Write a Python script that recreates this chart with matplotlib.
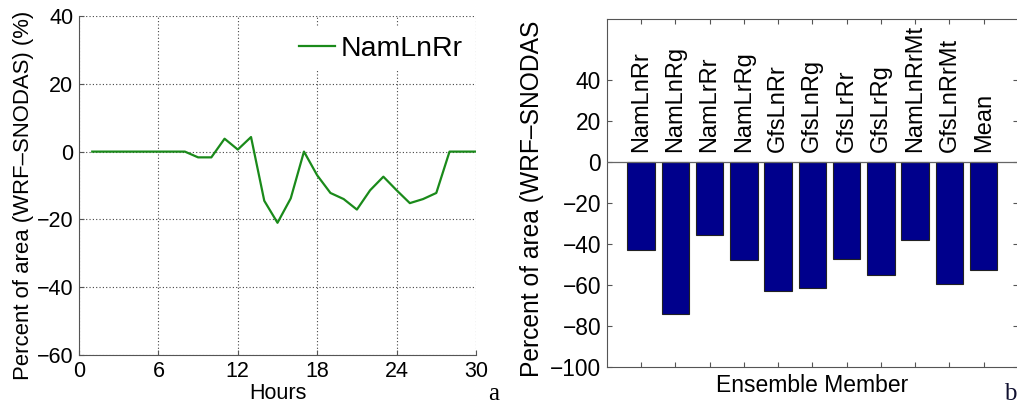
import matplotlib.pyplot as plt
import numpy as np

plt.rcParams["font.family"] = ["Liberation Sans", "DejaVu Sans"]

# left panel: hourly difference for one member
hours = list(range(1, 31))
diff_namlnrr = [0, 0, 0, 0, 0, 0, 0, 0, -1.7, -1.7,
                3.8, 0.6, 4.3, -14.5, -21, -13.8, 0, -7, -12.2, -14,
                -17.1, -11.4, -7.4, -11.4, -15.2, -14, -12.2, 0, 0, 0]

# right panel: total difference per ensemble member
members = ["NamLnRr", "NamLnRg", "NamLrRr", "NamLrRg", "GfsLnRr", "GfsLnRg",
           "GfsLrRr", "GfsLrRg", "NamLnRrMt", "GfsLnRrMt", "Mean"]
member_diff = [-42.7, -74.3, -35.4, -47.9, -62.9, -61.6, -47.1, -55.3, -38.0, -59.7, -52.5]

W, H = 1017, 404
SPINE = "#555555"
GREEN = "#1a8a1a"
NAVY = "#00008c"
ylabel_a = "Percent of area (WRF\u2013SNODAS) (%)"
ylabel_b = "Percent of area (WRF\u2013SNODAS"  # cropped at the top in the original

fig = plt.figure(figsize=(W / 100, H / 100), dpi=100)

# ---- panel a ----
ax1 = fig.add_axes([79 / W, 1 - 355 / H, 397 / W, 339 / H])
ax1.plot(hours, diff_namlnrr, color=GREEN, lw=1.6, label="NamLnRr")
ax1.set_xlim(0, 30)
ax1.set_ylim(-60, 40)
ax1.set_xticks(np.arange(0, 31, 6))
ax1.set_yticks(np.arange(-60, 41, 20))
ax1.grid(True, color="#444444", linestyle=(0, (1, 2)), linewidth=0.8)
for s in ["top", "right"]:
    ax1.spines[s].set_visible(False)
for s in ["left", "bottom"]:
    ax1.spines[s].set_color(SPINE)
ax1.tick_params(direction="in", length=3.5, labelsize=15.5, color=SPINE, pad=4)
ax1.set_xlabel("Hours", fontsize=15.5, labelpad=1)
fig.text(23.5 / W, 1 - 195 / H, ylabel_a, rotation=90, ha="center", va="center",
         fontsize=15.9)
leg = ax1.legend(loc="center right", bbox_to_anchor=(0.987, 0.9027), borderaxespad=0,
                 fontsize=20.5, handlelength=1.26, handletextpad=0.18, borderpad=0.3,
                 frameon=True, fancybox=False, framealpha=1)
leg.get_frame().set_edgecolor("none")
leg.get_frame().set_facecolor("white")

# ---- panel b ----
ax2 = fig.add_axes([606.7 / W, 1 - 366.7 / H, 411.3 / W, 347.7 / H])
pos = np.arange(1, len(members) + 1)
ax2.bar(pos, member_diff, width=0.8, color=NAVY, edgecolor="#222222", linewidth=0.8, zorder=2)
ax2.axhline(0, color="#666666", lw=0.9, zorder=3)
ax2.set_xlim(0, 12)
ax2.set_ylim(-100, 70)
ax2.set_xticks(pos)
ax2.set_xticklabels([])
ax2.set_yticks(np.arange(-100, 41, 20))
for s in ax2.spines.values():
    s.set_color(SPINE)
ax2.tick_params(direction="in", length=3.5, labelsize=16.4, color=SPINE, pad=4,
                top=True, right=True)
for x, name in zip(pos, members):
    ax2.text(x, 5, name, rotation=90, ha="center", va="bottom", fontsize=17)
ax2.set_xlabel("Ensemble Member", fontsize=16.5, labelpad=1.5)
fig.text(532 / W, 1 - 377 / H, ylabel_b, rotation=90, ha="center", va="bottom",
         fontsize=17.7)

# panel letters
fig.text(488 / W, 4 / H, "a", family="Liberation Serif", fontsize=18, va="baseline")
fig.text(1004 / W, 4 / H, "b", family="Liberation Serif", fontsize=18, va="baseline",
         color="#101030")

fig.savefig("out.png", dpi=100)
